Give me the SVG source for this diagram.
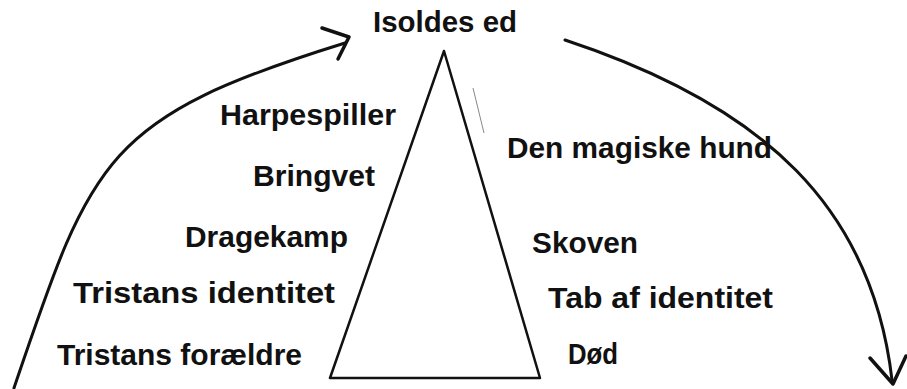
<svg xmlns="http://www.w3.org/2000/svg" width="907" height="389" viewBox="0 0 907 389">
<style>
.lbl{font-family:"Liberation Sans",Arial,sans-serif;font-weight:bold;font-size:30px;fill:#111;}
.ln{fill:none;stroke:#111;stroke-linecap:round;stroke-linejoin:round;}
</style>
<rect width="907" height="389" fill="#fff"/>
<g id="connectors">
<path class="ln" stroke-width="3" d="M14,388 C92,158 103,118 345,43"/>
<polyline class="ln" stroke-width="3.5" points="322,28 349,37 338,59"/>
<path class="ln" stroke-width="3" d="M565,40 C765,106 872,208 892,380"/>
<polyline class="ln" stroke-width="3.5" points="870,358 893,384 906,356"/>
</g>
<g id="triangle">
<polygon class="ln" stroke-width="2.5" points="444,51 330,378 540,378"/>
<line x1="473" y1="88" x2="484" y2="133" stroke="#888" stroke-width="1"/>
</g>
<g id="n-isolde"><text class="lbl" x="373" y="32" textLength="144" lengthAdjust="spacingAndGlyphs">Isoldes ed</text></g>
<g id="n-harpe"><text class="lbl" x="220" y="125" textLength="176" lengthAdjust="spacingAndGlyphs">Harpespiller</text></g>
<g id="n-bringvet"><text class="lbl" x="253" y="186" textLength="122" lengthAdjust="spacingAndGlyphs">Bringvet</text></g>
<g id="n-drage"><text class="lbl" x="185" y="247" textLength="163" lengthAdjust="spacingAndGlyphs">Dragekamp</text></g>
<g id="n-tident"><text class="lbl" x="73" y="303" textLength="262" lengthAdjust="spacingAndGlyphs">Tristans identitet</text></g>
<g id="n-tforaeldre"><text class="lbl" x="57" y="365" textLength="245" lengthAdjust="spacingAndGlyphs">Tristans forældre</text></g>
<g id="n-hund"><text class="lbl" x="507" y="158" textLength="265" lengthAdjust="spacingAndGlyphs">Den magiske hund</text></g>
<g id="n-skoven"><text class="lbl" x="532" y="253" textLength="106" lengthAdjust="spacingAndGlyphs">Skoven</text></g>
<g id="n-tab"><text class="lbl" x="548" y="308" textLength="225" lengthAdjust="spacingAndGlyphs">Tab af identitet</text></g>
<g id="n-dod"><text class="lbl" x="568" y="364" textLength="50" lengthAdjust="spacingAndGlyphs">Død</text></g>
</svg>
